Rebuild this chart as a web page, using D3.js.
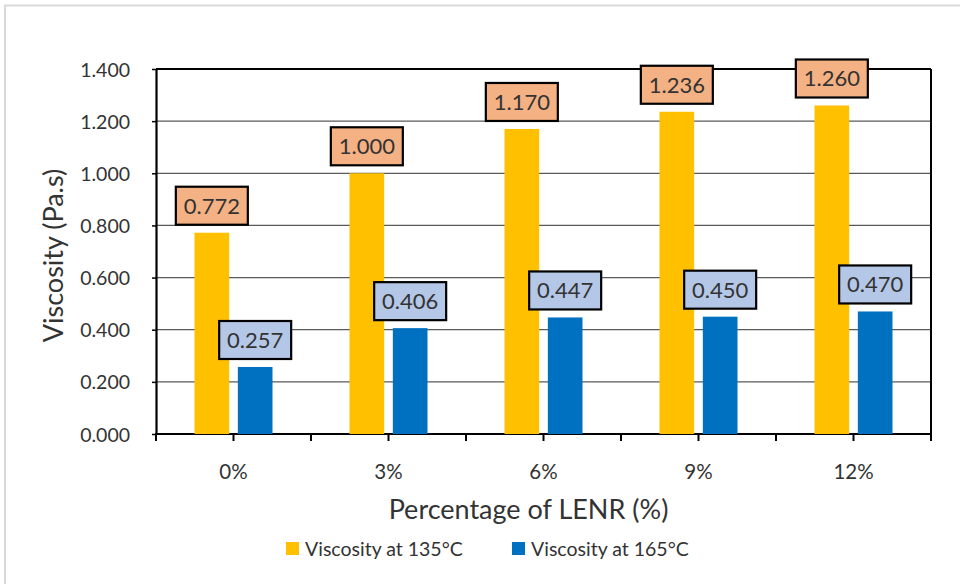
<!DOCTYPE html>
<html><head><meta charset="utf-8">
<script src="https://cdn.jsdelivr.net/npm/d3@7"></script>
<style>body{margin:0;background:#fff}svg{display:block}text{font-family:Lato,"Open Sans",sans-serif;fill:#333}</style>
</head><body>
<script>
const categories = ["0%", "3%", "6%", "9%", "12%"];
const seriesNames = ["Viscosity at 135°C", "Viscosity at 165°C"];
const visc135 = [0.772, 1.000, 1.170, 1.236, 1.260];
const visc165 = [0.257, 0.406, 0.447, 0.450, 0.470];
const yTicks = [0, 0.2, 0.4, 0.6, 0.8, 1.0, 1.2, 1.4];
const barColors = ["#FFC000", "#0070C0"];
const labelFills = ["#F4B183", "#B4C7E7"];

const W = 960, H = 584;
const svg = d3.select("body").append("svg").attr("width", W).attr("height", H);

// outer chart border
svg.append("rect").attr("x", 5).attr("y", 5.5).attr("width", 980).attr("height", 600)
  .attr("fill", "#fff").attr("stroke", "#d9d9d9").attr("stroke-width", 2);

const L = 156, R = 931, T = 69, B = 434;
const x = d3.scaleBand().domain(categories).range([L, R]).padding(0);
const xs = d3.scaleBand().domain([0, 1]).range([38.5, 116.5]).paddingInner(0.2).paddingOuter(0);
const y = d3.scaleLinear().domain([0, 1.4]).range([B, T]);

// gridlines
svg.append("g").selectAll("line").data(yTicks.slice(1)).join("line")
  .attr("x1", L).attr("x2", R).attr("y1", d => y(d)).attr("y2", d => y(d))
  .attr("stroke", d => d === 1.4 ? "#000" : "#5a5a5a").attr("stroke-width", d => d === 1.4 ? 1.8 : 1.3);
// right border
svg.append("line").attr("x1", R).attr("x2", R).attr("y1", T).attr("y2", B + 7)
  .attr("stroke", "#000").attr("stroke-width", 2);

// y axis
const yAxis = d3.axisLeft(y).tickValues(yTicks).tickFormat(d3.format(".3f")).tickSizeInner(4).tickSizeOuter(0).tickPadding(22);
const gy = svg.append("g").attr("transform", `translate(${L},0)`).call(yAxis);
gy.select(".domain").attr("stroke", "#000").attr("stroke-width", 2.2);
gy.selectAll(".tick line").attr("stroke", "#000").attr("stroke-width", 1.5);
gy.selectAll(".tick text").attr("font-size", 19.5).attr("fill", "#333").attr("dy", "0.36em")
  .style("font-family", "Lato, 'Open Sans', sans-serif");

// x axis ticks at boundaries and centers
const tickPos = [];
categories.forEach(c => { tickPos.push(x(c)); tickPos.push(x(c) + x.bandwidth() / 2); });
tickPos.push(R);
svg.append("g").selectAll("line").data(tickPos).join("line")
  .attr("x1", d => d).attr("x2", d => d).attr("y1", B).attr("y2", B + 7)
  .attr("stroke", "#000").attr("stroke-width", 2);
svg.append("line").attr("x1", L - 1).attr("x2", R + 1).attr("y1", B).attr("y2", B)
  .attr("stroke", "#000").attr("stroke-width", 2.2);
svg.append("g").selectAll("text").data(categories).join("text")
  .attr("x", d => x(d) + x.bandwidth() / 2).attr("y", 479)
  .attr("text-anchor", "middle").attr("font-size", 20.5).text(d => d);

// bars
const series = [visc135, visc165];
series.forEach((vals, si) => {
  const g = svg.append("g");
  g.selectAll("rect").data(vals).join("rect")
    .attr("x", (d, i) => x(categories[i]) + xs(si))
    .attr("y", d => y(d))
    .attr("width", xs.bandwidth())
    .attr("height", d => B - y(d))
    .attr("fill", barColors[si]);
});

// data labels
series.forEach((vals, si) => {
  const g = svg.append("g");
  const lw = 72, lh = 38;
  const grp = g.selectAll("g").data(vals).join("g")
    .attr("transform", (d, i) => `translate(${x(categories[i]) + xs(si) + xs.bandwidth() / 2},${y(d) - 8 - lh / 2})`);
  grp.append("rect").attr("x", -lw / 2).attr("y", -lh / 2).attr("width", lw).attr("height", lh)
    .attr("fill", labelFills[si]).attr("stroke", "#000").attr("stroke-width", 2.2);
  grp.append("text").attr("text-anchor", "middle").attr("dy", "0.36em")
    .attr("font-size", 22).attr("fill", "#262626").text(d => d3.format(".3f")(d));
});

// axis titles
svg.append("text").attr("transform", `translate(63,${(T + B) / 2 + 4}) rotate(-90)`)
  .attr("text-anchor", "middle").attr("font-size", 27).attr("fill", "#262626").text("Viscosity (Pa.s)");
svg.append("text").attr("x", (L + R) / 2 - 15).attr("y", 519)
  .attr("text-anchor", "middle").attr("font-size", 27).attr("fill", "#262626").text("Percentage of LENR (%)");

// legend
const legX = [286, 512];
const lg = svg.append("g").selectAll("g").data(seriesNames).join("g")
  .attr("transform", (d, i) => `translate(${legX[i]},542)`);
lg.append("rect").attr("width", 13).attr("height", 13).attr("fill", (d, i) => barColors[i]);
lg.append("text").attr("x", 19).attr("y", 13.5).attr("font-size", 19.5).attr("fill", "#262626").text(d => d);
</script>
</body></html>
